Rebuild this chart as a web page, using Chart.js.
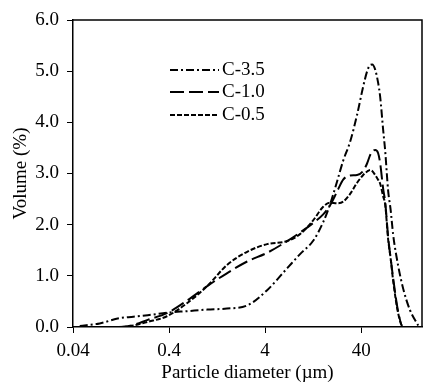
<!DOCTYPE html>
<html lang="en">

<head>
    <meta charset="UTF-8">
    <title>Particle size distribution</title>
    <style>
        body {
            margin: 0;
            background: #fff;
        }
    </style>
</head>

<body>
    <canvas id="psd" width="427" height="383"></canvas>

    <script src="https://cdn.jsdelivr.net/npm/chart.js"></script>

    <script>
        // particle diameter (um), shared by all three curves
        const sizes = [0.047, 0.076, 0.12, 0.17, 0.24, 0.38, 0.62, 1.0, 1.6, 2.6, 4.2, 6.8, 9.3, 12.6, 16.1, 19.0,
            22.5, 26.0, 30.7, 36.3, 42.0, 46.2, 49.6, 52.1, 56.0, 60.0, 63.1, 67.8, 71.1, 76.5, 81.0, 86.2, 97.1,
            109.5, 129, 157];

        // volume (%)
        const c35 = [0.02, 0.07, 0.17, 0.20, 0.23, 0.28, 0.31, 0.34, 0.36, 0.42, 0.72, 1.15, 1.43, 1.68, 2.05, 2.40,
            2.85, 3.25, 3.62, 4.15, 4.70, 5.00, 5.12, 5.13, 5.03, 4.78, 4.50, 3.85, 3.45, 2.65, 2.30, 1.80, 1.20,
            0.75, 0.33, 0.03];
        const c10 = [0, 0, 0, 0.04, 0.14, 0.27, 0.52, 0.80, 1.05, 1.28, 1.45, 1.68, 1.85, 2.03, 2.20, 2.38,
            2.65, 2.88, 2.96, 2.97, 3.05, 3.20, 3.36, 3.43, 3.46, 3.40, 3.20, 2.70, 2.45, 1.75, 1.35, 0.95, 0.30,
            0, 0, 0];
        const c05 = [0, 0, 0, 0.03, 0.10, 0.21, 0.47, 0.80, 1.21, 1.47, 1.62, 1.68, 1.82, 2.08, 2.35, 2.43,
            2.42, 2.45, 2.60, 2.82, 2.97, 3.04, 3.07, 3.05, 2.97, 2.88, 2.80, 2.55, 2.40, 1.70, 1.35, 0.90, 0.27,
            0, 0, 0];

        const seriesNames = ["C-3.5", "C-1.0", "C-0.5"];
        const xTicks = [0.04, 0.4, 4, 40];

        function toPoints(vals) {
            return sizes.map((s, i) => ({ x: s, y: vals[i] }));
        }

        const serif = "'Liberation Serif', 'Times New Roman', serif";

        // box round the plot and the legend inside it
        const framePlugin = {
            id: "frame",
            afterDraw(chart) {
                const ctx = chart.ctx;
                const a = chart.chartArea;
                ctx.save();
                ctx.strokeStyle = "#000";
                ctx.lineWidth = 1.5;
                ctx.beginPath();
                ctx.moveTo(a.left, a.top);
                ctx.lineTo(a.right, a.top);
                ctx.lineTo(a.right, a.bottom);
                ctx.stroke();

                ctx.font = "19px " + serif;
                ctx.textBaseline = "middle";
                ctx.fillStyle = "#000";
                const rows = [70, 92, 115];
                chart.data.datasets.forEach((ds, i) => {
                    ctx.setLineDash(ds.borderDash);
                    ctx.lineWidth = 2;
                    ctx.beginPath();
                    ctx.moveTo(170, rows[i]);
                    ctx.lineTo(219, rows[i]);
                    ctx.stroke();
                    ctx.setLineDash([]);
                    ctx.fillText(ds.label, 222, rows[i]);
                });
                ctx.restore();
            }
        };

        const ctx = document.getElementById("psd").getContext("2d");
        const chart = new Chart(ctx, {
            type: "line",
            data: {
                datasets: [
                    { label: seriesNames[0], data: toPoints(c35), borderDash: [8, 3, 2, 3] },
                    { label: seriesNames[1], data: toPoints(c10), borderDash: [14, 5] },
                    { label: seriesNames[2], data: toPoints(c05), borderDash: [5, 2] }
                ]
            },
            options: {
                responsive: false,
                animation: false,
                layout: { padding: { top: 20, right: 5, left: 0, bottom: 0 } },
                elements: {
                    point: { radius: 0 },
                    line: { borderColor: "#000", borderWidth: 2, fill: false, cubicInterpolationMode: "monotone" }
                },
                plugins: {
                    legend: { display: false },
                    tooltip: { enabled: false }
                },
                scales: {
                    x: {
                        type: "logarithmic",
                        min: 0.04,
                        max: 172,
                        afterBuildTicks: scale => {
                            scale.ticks = xTicks.map(v => ({ value: v }));
                        },
                        afterFit: scale => { scale.height = 56; },
                        grid: { display: true, drawOnChartArea: false, drawTicks: true, tickLength: 6, color: "#000" },
                        border: { color: "#000", width: 1.5 },
                        ticks: {
                            color: "#000",
                            padding: 7,
                            maxRotation: 0,
                            font: { family: serif, size: 19 },
                            callback: v => String(v)
                        },
                        title: {
                            display: true,
                            text: "Particle diameter (\u00b5m)",
                            color: "#000",
                            padding: { top: 0, bottom: 0 },
                            font: { family: serif, size: 19, lineHeight: 1 }
                        }
                    },
                    y: {
                        min: 0,
                        max: 6,
                        afterFit: scale => { scale.width = 73; },
                        grid: { display: true, drawOnChartArea: false, drawTicks: true, tickLength: 6, color: "#000" },
                        border: { color: "#000", width: 1.5 },
                        ticks: {
                            stepSize: 1,
                            color: "#000",
                            padding: 8,
                            font: { family: serif, size: 19 },
                            callback: v => v.toFixed(1)
                        },
                        title: {
                            display: true,
                            text: "Volume (%)",
                            color: "#000",
                            padding: { top: 10, bottom: 0 },
                            font: { family: serif, size: 19 }
                        }
                    }
                }
            },
            plugins: [framePlugin]
        });
    </script>
</body>

</html>
